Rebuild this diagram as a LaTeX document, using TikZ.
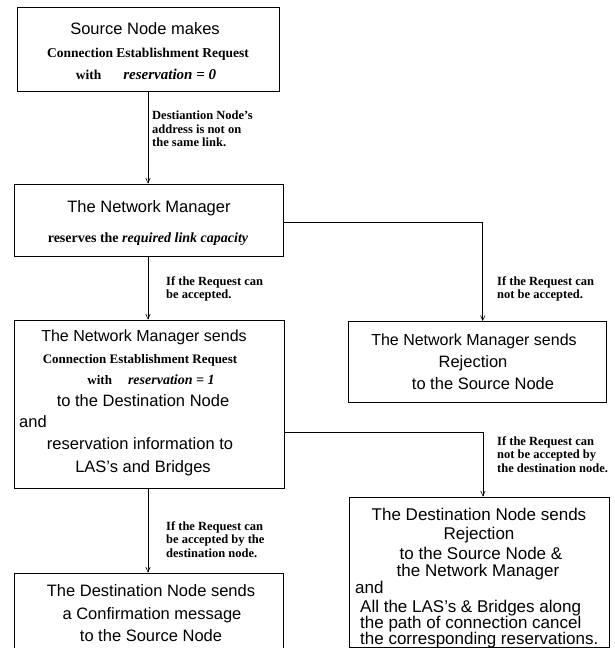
\documentclass[tikz,border=0pt]{standalone}
\usepackage{fontspec}
\setmainfont{Liberation Serif}
\setsansfont{Liberation Sans}
\usetikzlibrary{arrows.meta}
\begin{document}
\begin{tikzpicture}[x=1pt,y=-1pt,
        box/.style={draw,line width=0.7pt,inner sep=0pt},
        hv/.style={font=\fontsize{16.5}{19}\selectfont\sffamily,anchor=base,inner sep=0pt},
        hvb/.style={hv,font=\fontsize{17}{19}\selectfont\sffamily},
        tm/.style={font=\fontsize{13.5}{16}\selectfont\bfseries,anchor=base,inner sep=0pt},
        lbl/.style={font=\fontsize{12.5}{13.5}\selectfont\bfseries,align=left,anchor=north west,inner sep=0pt},
        flow/.style={line width=0.6pt,-{Straight Barb[length=5pt,width=4.5pt]}}]
    \useasboundingbox (0,0) rectangle (615,648);
    \node[box,minimum width=262,minimum height=84] (src) at (148,49) {};
    \node[box,minimum width=269,minimum height=72] (nm) at (148.5,220) {};
    \node[box,minimum width=270,minimum height=168] (nmsend) at (149,404) {};
    \node[box,minimum width=258,minimum height=81] (rej) at (477,362) {};
    \node[box,minimum width=269,minimum height=92] (conf) at (148.5,619) {};
    \node[box,minimum width=260,minimum height=150] (dstrej) at (479,572) {};
    \node[hv] (src1) at (145,34) {Source Node makes};
    \node[tm] (src2) at (148,57) {Connection Establishment Request};
    \node[tm] (src3) at (146,79) {with\hspace{22pt}{\fontsize{15}{17}\selectfont\textit{reservation = 0}}};
    \node[hv] (nm1) at (149,212) {The Network Manager};
    \node[tm,font=\fontsize{14}{16}\selectfont\bfseries] (nm2) at (148,242) {reserves the \textit{required link capacity}};
    \node[hv,font=\fontsize{16}{19}\selectfont\sffamily] (nms1) at (144,341) {The Network Manager sends};
    \node[tm,font=\fontsize{13}{15}\selectfont\bfseries] (nms2) at (140,363) {Connection Establishment Request};
    \node[tm,font=\fontsize{13}{15}\selectfont\bfseries] (nms3) at (151,384) {with\hspace{16pt}{\fontsize{14}{16}\selectfont\textit{reservation = 1}}};
    \node[hv] (nms4) at (143,406) {to the Destination Node};
    \node[hv,anchor=base west] (nms5) at (19,427) {and};
    \node[hv] (nms6) at (140,449) {reservation information to};
    \node[hv] (nms7) at (143,472) {LAS's and Bridges};
    \node[hv,font=\fontsize{16}{19}\selectfont\sffamily] (rej1) at (474,345) {The Network Manager sends};
    \node[hv] (rej2) at (473,367) {Rejection};
    \node[hv] (rej3) at (483,389) {to the Source Node};
    \node[hv] (conf1) at (151,596) {The Destination Node sends};
    \node[hv] (conf2) at (152,619) {a Confirmation message};
    \node[hv] (conf3) at (151,641) {to the Source Node};
    \node[hvb] (dr1) at (479,520) {The Destination Node sends};
    \node[hvb] (dr2) at (479,539) {Rejection};
    \node[hvb] (dr3) at (481,559) {to the Source Node \&};
    \node[hvb] (dr4) at (478,576) {the Network Manager};
    \node[hvb,anchor=base west] (dr5) at (355,593) {and};
    \node[hvb,anchor=base west] (dr6) at (360,612) {All the LAS's \& Bridges along};
    \node[hvb,anchor=base west] (dr7) at (360,628) {the path of connection cancel};
    \node[hvb,anchor=base west] (dr8) at (360,644) {the corresponding reservations.};
    \draw[flow] (src.south) -- (src.south |- nm.north);
    \draw[flow] (nm.south -| src.south) -- (src.south |- nmsend.north);
    \draw[flow] (nmsend.south -| src.south) -- (src.south |- conf.north);
    \draw[flow] (nm.-1) -| (rej.82);
    \draw[flow] (nmsend.-12) -| (dstrej.87);
    \node[lbl] (l1) at (152,111) {Destiantion Node's\\address is not on\\the same link.};
    \node[lbl] (l2) at (166,276) {If the Request can\\be accepted.};
    \node[lbl] (l3) at (497,276) {If the Request can\\not be accepted.};
    \node[lbl] (l4) at (497,436) {If the Request can\\not be accepted by\\the destination node.};
    \node[lbl] (l5) at (166,521) {If the Request can\\be accepted by the\\destination node.};
\end{tikzpicture}
\end{document}
